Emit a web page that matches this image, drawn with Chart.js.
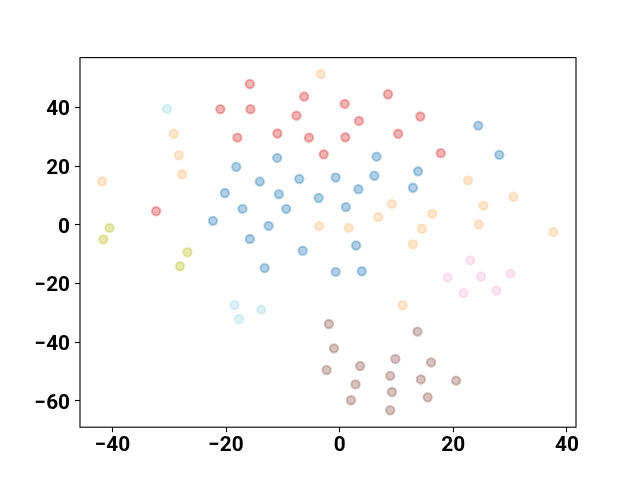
<!DOCTYPE html>
<html>
<head>
<meta charset="utf-8">
<script src="https://cdn.jsdelivr.net/npm/chart.js@4/dist/chart.umd.min.js"></script>
<style>
html,body{margin:0;padding:0;background:#fff;}
canvas{display:block;}
</style>
</head>
<body>
<canvas id="c" width="640" height="480"></canvas>
<script>
// ---- data ----
const blueX = [-18.2,-11.0,-14.05,-7.1,-20.2,-10.7,-3.7,-17.1,-9.4,-22.3,-12.5,-15.8,24.4,6.5,28.1,-0.7,6.1,13.8,3.3,12.9,1.1,2.9,-6.5,-13.2,-0.7,3.9];
const blueY = [19.8,22.9,14.8,15.7,10.9,10.5,9.2,5.5,5.5,1.4,-0.3,-4.8,33.9,23.3,23.9,16.2,16.8,18.3,12.2,12.7,6.1,-7.0,-8.8,-14.7,-16.0,-15.8];

const redX = [-15.8,-6.25,-21.0,-15.7,-7.6,-18.0,-10.95,-5.4,-2.8,-32.3,8.5,0.9,3.4,14.2,1.0,10.3,17.8];
const redY = [48.1,43.8,39.5,39.5,37.3,29.8,31.2,29.8,24.1,4.7,44.6,41.3,35.5,37.0,29.9,31.1,24.5];

const orangeX = [-3.3,-29.2,-28.3,-27.7,-41.8,-3.6,22.6,9.2,25.3,30.6,6.8,16.3,1.6,14.5,24.5,37.6,12.9,11.1];
const orangeY = [51.5,31.1,23.8,17.3,14.9,-0.4,15.2,7.2,6.6,9.6,2.7,3.8,-1.0,-1.3,0.2,-2.4,-6.6,-27.4];

const oliveX = [-40.5,-41.6,-26.8,-28.1];
const oliveY = [-1.0,-4.9,-9.3,-14.1];

const cyanX = [-30.4,-18.5,-17.7,-13.8];
const cyanY = [39.6,-27.3,-32.1,-28.9];

const pinkX = [23.0,19.0,24.9,30.1,21.8,27.6];
const pinkY = [-12.1,-17.9,-17.6,-16.6,-23.2,-22.4];

const brownX = [-1.9,13.7,-1.0,9.8,16.1,-2.3,3.6,8.9,14.3,20.5,2.8,9.2,15.5,2.0,8.9];
const brownY = [-33.8,-36.4,-42.1,-45.7,-46.9,-49.5,-48.1,-51.5,-52.7,-53.1,-54.4,-57.0,-58.8,-59.8,-63.2];

const xTickValues = [-40,-20,0,20,40];
const xTickLabels = ["\u221240","\u221220","0","20","40"];
const yTickValues = [-60,-40,-20,0,20,40];
const yTickLabels = ["\u221260","\u221240","\u221220","0","20","40"];

// ---- build chart ----
function pts(xs, ys){ return xs.map((x,i)=>({x:x, y:ys[i]})); }
function ds(xs, ys, rgb){
  const c = 'rgba(' + rgb + ',0.35)';
  return {data: pts(xs, ys), backgroundColor: c, borderColor: c,
          pointRadius: 4.17, pointBorderWidth: 2.08, pointHoverRadius: 4.17};
}
const datasets = [
  ds(blueX, blueY, '31,119,180'),
  ds(redX, redY, '214,39,40'),
  ds(orangeX, orangeY, '255,187,120'),
  ds(oliveX, oliveY, '188,189,34'),
  ds(cyanX, cyanY, '158,218,229'),
  ds(pinkX, pinkY, '247,182,210'),
  ds(brownX, brownY, '140,86,75')
];

const frame = {
  id: 'frame',
  afterDraw(chart){
    const a = chart.chartArea, ctx = chart.ctx;
    ctx.save();
    ctx.strokeStyle = '#000';
    ctx.lineWidth = 1.1;
    ctx.strokeRect(a.left, a.top, a.right - a.left, a.bottom - a.top);
    ctx.restore();
  }
};

const tickFont = {family: 'Roboto', size: 20.8, weight: 'bold'};

new Chart(document.getElementById('c'), {
  type: 'scatter',
  data: {datasets: datasets},
  options: {
    responsive: false,
    animation: false,
    events: [],
    layout: {padding: {left: 0, top: 57.6, right: 64, bottom: 0}},
    plugins: {legend: {display: false}, tooltip: {enabled: false}},
    scales: {
      x: {
        type: 'linear', min: -45.7, max: 41.6,
        afterBuildTicks(s){ s.ticks = xTickValues.map(v=>({value:v})); },
        afterFit(s){ s.height = 52.8; },
        border: {display: false},
        grid: {display: true, drawOnChartArea: false, drawTicks: true, tickLength: 5, tickColor: '#000', tickWidth: 1.1},
        ticks: {color: '#000', font: tickFont, padding: 1.5, maxRotation: 0, autoSkip: false,
          callback(v){ const i = xTickValues.indexOf(v); return i >= 0 ? xTickLabels[i] : ''; }}
      },
      y: {
        type: 'linear', min: -69.0, max: 57.1,
        afterBuildTicks(s){ s.ticks = yTickValues.map(v=>({value:v})); },
        afterFit(s){ s.width = 80; },
        border: {display: false},
        grid: {display: true, drawOnChartArea: false, drawTicks: true, tickLength: 5, tickColor: '#000', tickWidth: 1.1},
        ticks: {color: '#000', font: tickFont, padding: 5, labelOffset: 2.5, autoSkip: false,
          callback(v){ const i = yTickValues.indexOf(v); return i >= 0 ? yTickLabels[i] : ''; }}
      }
    }
  },
  plugins: [frame]
});
</script>
</body>
</html>
